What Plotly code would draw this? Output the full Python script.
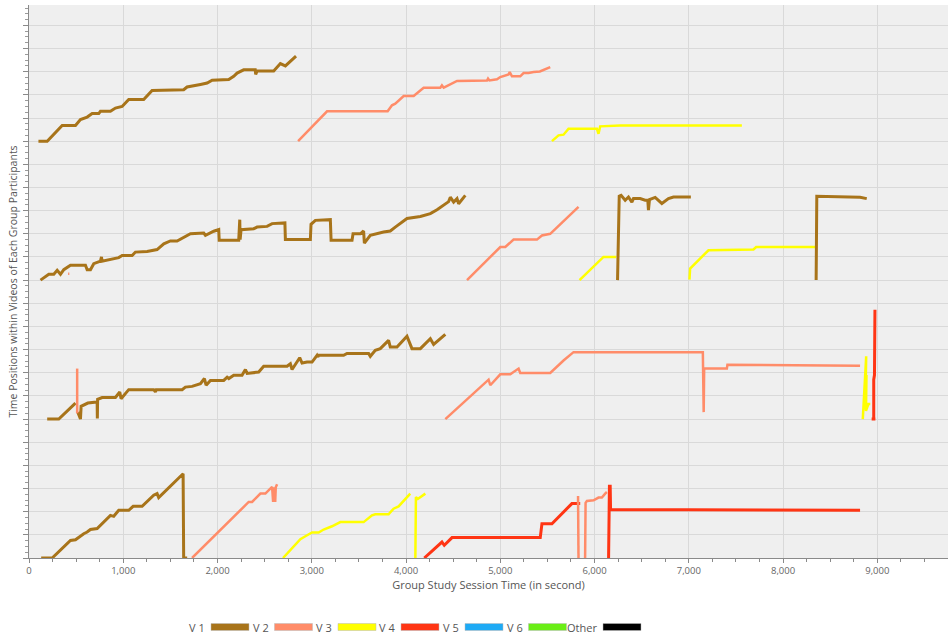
import plotly.graph_objects as go

# ---------------- DATA (x: session time in s, y: position within video, per participant band) ----------------
N = None
# Participant 1 (top band)
p1_v1_x = [100, 193, 352, 493, 546, 617, 670, 740, 758, 864, 917, 988, 1058, 1217, 1306, 1641, 1677, 1748, 1819, 1890,
           1943, 2119, 2172, 2208, 2278, 2400, 2405, 2420, 2596, 2667, 2720, 2833]
p1_v1_y = [0, 0, 0.68, 0.68, 0.93, 1.04, 1.19, 1.19, 1.29, 1.29, 1.43, 1.50, 1.80, 1.80, 2.19, 2.22, 2.34, 2.41, 2.45, 2.51,
           2.63, 2.66, 2.80, 2.94, 3.08, 3.08, 2.88, 3.03, 3.03, 3.35, 3.25, 3.67]
p1_v2_x = [2855, 3162, 3805, 3851, 3886, 3975, 4081, 4187, 4364, 4381, 4400, 4488, 4541, 4859, 4870, 4885, 4965, 5000,
           5088, 5100, 5124, 5212, 5247, 5300, 5353, 5420, 5459, 5530]
p1_v2_y = [0, 1.29, 1.29, 1.55, 1.62, 1.95, 1.95, 2.31, 2.31, 2.41, 2.31, 2.48, 2.60, 2.62, 2.70, 2.62, 2.67, 2.77,
           2.88, 2.98, 2.80, 2.80, 2.94, 2.94, 2.99, 3.01, 3.09, 3.20]
p1_v3_x = [5548, 5618, 5671, 5724, 6025, 6042, 6060, 6272, 7563]
p1_v3_y = [0, 0.25, 0.28, 0.54, 0.54, 0.32, 0.64, 0.68, 0.68]

# Participant 2
p2_v1_x = [122, 210, 263, 299, 334, 369, 440, 599, 617, 652, 687, 758, 769, 775, 952, 988, 1094, 1129, 1253, 1359,
           1430, 1500, 1571, 1641, 1713, 1854, 1872, 1960, 2013, 2018, 2225, 2236, 2240, 2250, 2384, 2420, 2526, 2579,
           2667, 2715, 2720, 2985, 2992, 3038, 3197, 3205, 3427, 3438, 3515, 3550, 3558, 3621, 3762, 3833, 3886, 4010,
           4152, 4258, 4329, 4399, 4452, 4470, 4505, 4541, 4558, 4629, N,
           6244, 6250, 6262, 6282, 6300, 6325, 6360, 6396, 6413, 6484, 6537, 6565, 6572, 6583, 6643, 6714, 6784, 6837,
           7022, N,
           8351, 8358, 8817, 8888]
p2_v1_y = [0, 0.25, 0.25, 0.42, 0.25, 0.45, 0.64, 0.64, 0.45, 0.45, 0.71, 0.82, 1.0, 0.82, 0.97, 1.06, 1.06, 1.21, 1.24, 1.32,
           1.57, 1.69, 1.69, 1.84, 2.0, 2.03, 1.93, 2.11, 2.18, 1.72, 1.72, 2.61, 1.75, 2.18, 2.22, 2.29, 2.32, 2.44,
           2.47, 2.47, 1.75, 1.75, 2.41, 2.58, 2.61, 1.72, 1.72, 2.0, 2.0, 2.12, 1.6, 1.93, 2.08, 2.12, 2.29, 2.66,
           2.75, 2.87, 3.04, 3.22, 3.39, 3.58, 3.37, 3.52, 3.30, 3.66, N,
           0, 1.9, 3.62, 3.66, 3.55, 3.45, 3.59, 3.37, 3.52, 3.52, 3.45, 3.45, 3.02, 3.48, 3.57, 3.31, 3.52, 3.59,
           3.59, N,
           0, 3.62, 3.58, 3.52]
p2_v2_x = [415, 428, N, 4647, 5000, 5053, 5141, 5389, 5442, 5530, 5830]
p2_v2_y = [0.28, 0.28, N, 0, 1.43, 1.43, 1.75, 1.75, 1.93, 2.0, 3.16]
p2_v3_x = [5841, 6095, 6230, N, 7007, 7014, 7209, 7686, 7715, 8340]
p2_v3_y = [0, 1.0, 1.0, N, 0.02, 0.5, 1.29, 1.32, 1.43, 1.43]

# Participant 3
p3_v1_x = [193, 316, 493, N, 518, 546, 553, 624, 723, 725, 728, 776, 917, 963, 977, 1058, 1323, 1341, 1350, 1625,
           1659, 1730, 1819, 1861, 1879, 1925, 2066, 2102, 2120, 2172, 2260, 2296, 2314, 2437, 2490, 2738, 2773, 2791,
           2844, 2872, 2897, 2950, 3003, 3056, 3065, 3073, 3338, 3374, 3603, 3621, 3674, 3727, 3815, 3833, 3904, 4010,
           4063, 4152, 4258, 4293, 4417]
p3_v1_y = [0, 0, 0.69, N, 0.30, 0, 0.55, 0.69, 0.74, 0.02, 0.85, 0.93, 0.93, 1.17, 0.88, 1.27, 1.27, 1.17, 1.27, 1.27,
           1.38, 1.41, 1.53, 1.75, 1.46, 1.67, 1.67, 1.81, 1.75, 1.89, 1.89, 2.14, 1.97, 2.03, 2.28, 2.28, 2.39, 2.14,
           2.46, 2.65, 2.42, 2.46, 2.46, 2.75, 2.68, 2.75, 2.75, 2.83, 2.83, 2.71, 2.97, 3.04, 3.40, 3.11, 3.11, 3.58,
           3.04, 3.04, 3.47, 3.22, 3.66]
p3_v2_x = [511, 511, N, 4417, 4876, 4894, 5000, 5106, 5194, 5212, 5530, 5671, 5777, 7149, 7158, 7163, 7404, 7410, 8817]
p3_v2_y = [2.18, 0.25, N, 0, 1.70, 1.46, 1.93, 1.93, 2.18, 1.99, 1.99, 2.53, 2.89, 2.89, 0.30, 2.18, 2.18, 2.35, 2.30]
p3_v3_x = [8846, 8882, 8872, 8885, 8880, 8905, 8925]
p3_v3_y = [0, 2.71, 0.4, 1.9, 0.35, 0.65, 0.65]
p3_v4_x = [8940, 8980, 8962, 8962, 8970, 8975]
p3_v4_y = [0, 0, 0, 1.7, 1.9, 4.72]

# Participant 4 (bottom band)
p4_v1_x = [129, 246, 440, 493, 581, 617, 652, 723, 864, 899, 952, 1058, 1105, 1200, 1323, 1359, 1376, 1635, 1641, 1678]
p4_v1_y = [0, 0, 0.76, 0.79, 1.05, 1.12, 1.23, 1.27, 1.84, 1.80, 2.06, 2.06, 2.23, 2.23, 2.71, 2.78, 2.61, 3.64, 0, 0]
p4_v2_x = [1730, 2331, 2367, 2455, 2508, 2579, 2590, 2596, 2610, 2612, 2618, 2632, N,
           5825, 5830, N, 5900, 5905, 5919, 5990, 6042, 6078, 6113, 6131]
p4_v2_y = [0, 2.42, 2.42, 2.78, 2.78, 3.07, 2.42, 3.0, 3.0, 2.42, 3.05, 3.18, N,
           2.68, 0, N, 0, 2.38, 2.46, 2.49, 2.61, 2.61, 2.78, 2.85]
p4_v3_x = [2695, 2879, 2932, 3003, 3073, 3126, 3215, 3303, 3550, 3639, 3674, 3815, 3868, 3921, 4045, N,
           4099, 4105, 4125, 4205]
p4_v3_y = [0, 0.81, 0.94, 1.10, 1.10, 1.23, 1.37, 1.55, 1.55, 1.84, 1.89, 1.89, 2.13, 2.23, 2.78, N,
           0, 2.63, 2.55, 2.78]
p4_v4_x = [4194, 4381, 4406, 4488, 5424, 5442, 5548, 5760, 5848, N, 6149, 6158, 6166, 6170, 8817]
p4_v4_y = [0, 0.69, 0.55, 0.88, 0.88, 1.48, 1.48, 2.35, 2.35, N, 0, 3.1, 3.1, 2.09, 2.06]

x_tick_values = [0, 1000, 2000, 3000, 4000, 5000, 6000, 7000, 8000, 9000]
legend_names = ["V 1", "V 2", "V 3", "V 4", "V 5", "V 6", "Other"]
legend_colors = ["#A8741A", "#FF8C69", "#FFFF00", "#FF3514", "#1EAAF5", "#6AEE16", "#000000"]

# ---------------- FIGURE ----------------
BAND = 6  # gridline units per participant band
series = [
    # (band index from bottom, video index, x, y, width)
    (3, 0, p1_v1_x, p1_v1_y, 3), (3, 1, p1_v2_x, p1_v2_y, 2.5), (3, 2, p1_v3_x, p1_v3_y, 2.5),
    (2, 2, p2_v3_x, p2_v3_y, 2.5), (2, 1, p2_v2_x, p2_v2_y, 2.5), (2, 0, p2_v1_x, p2_v1_y, 3),
    (1, 0, p3_v1_x, p3_v1_y, 3), (1, 1, p3_v2_x, p3_v2_y, 2.5), (1, 2, p3_v3_x, p3_v3_y, 2.5), (1, 3, p3_v4_x, p3_v4_y, 3),
    (0, 0, p4_v1_x, p4_v1_y, 3), (0, 2, p4_v3_x, p4_v3_y, 2.5), (0, 3, p4_v4_x, p4_v4_y, 3), (0, 1, p4_v2_x, p4_v2_y, 2.5),
]

fig = go.Figure()
for band, vid, xs, ys, w in series:
    off = band * BAND
    fig.add_trace(go.Scatter(
        x=xs, y=[None if v is None else v + off for v in ys],
        mode="lines", line=dict(color=legend_colors[vid], width=w),
        showlegend=False, hoverinfo="skip", connectgaps=False))

FONT = "Open Sans, DejaVu Sans, sans-serif"

# custom legend (label to the left of a colour bar), positioned in pixels
W, H = 948, 636
ML, MR, MT, MB = 29, 0, 5, 78
pw, ph = W - ML - MR, H - MT - MB
swatch_left_px = [211, 274.5, 338, 401, 465, 528.5, 603]
legend_center_py = 627
for name, col, sl in zip(legend_names, legend_colors, swatch_left_px):
    x0 = (sl - ML) / pw
    x1 = (sl + 38 - ML) / pw
    yc = (H - MB - legend_center_py) / ph
    hh = 3.5 / ph
    fig.add_shape(type="rect", xref="paper", yref="paper", x0=x0, x1=x1, y0=yc - hh, y1=yc + hh,
                  fillcolor=col, line=dict(color="#bbbbbb", width=0.5))
    fig.add_annotation(xref="paper", yref="paper", x=(sl - 4 - ML) / pw, y=yc, text=name,
                       showarrow=False, xanchor="right", yanchor="middle",
                       font=dict(family=FONT, size=11, color="#555555"))

fig.update_layout(
    width=W, height=H, autosize=False,
    margin=dict(l=ML, r=MR, t=MT, b=MB, pad=0),
    paper_bgcolor="white", plot_bgcolor="#efefef",
    font=dict(family=FONT, color="#555555"),
    showlegend=False,
)
fig.update_xaxes(
    range=[0, 9750], tickvals=x_tick_values, tickformat=",d",
    showgrid=True, gridcolor="#d9d9d9", gridwidth=1, zeroline=False,
    showline=True, linecolor="#8a8a8a", linewidth=1,
    ticks="outside", ticklen=4, tickcolor="#8a8a8a", automargin=False,
    minor=dict(dtick=250, tick0=0, ticks="outside", ticklen=3, tickcolor="#8a8a8a", showgrid=False),
    tickfont=dict(family=FONT, size=9.5, color="#666666"),
    title=dict(text="Group Study Session Time (in second)", standoff=2,
               font=dict(family=FONT, size=11, color="#555555")),
)
fig.update_yaxes(
    range=[0, 23.88], dtick=1, tick0=0, showticklabels=False,
    showgrid=True, gridcolor="#d9d9d9", gridwidth=1, zeroline=False,
    showline=True, linecolor="#8a8a8a", linewidth=1,
    ticks="outside", ticklen=5, tickcolor="#8a8a8a", automargin=False,
    minor=dict(dtick=0.25, tick0=0, ticks="outside", ticklen=3, tickcolor="#9a9a9a", showgrid=False),
    title=dict(text="Time Positions within Videos of Each Group Participants", standoff=3,
               font=dict(family=FONT, size=10.5, color="#555555")),
)

fig.write_html("out.html", config={"displayModeBar": False},
               post_script="document.body.style.margin='0';document.body.style.padding='0';")
